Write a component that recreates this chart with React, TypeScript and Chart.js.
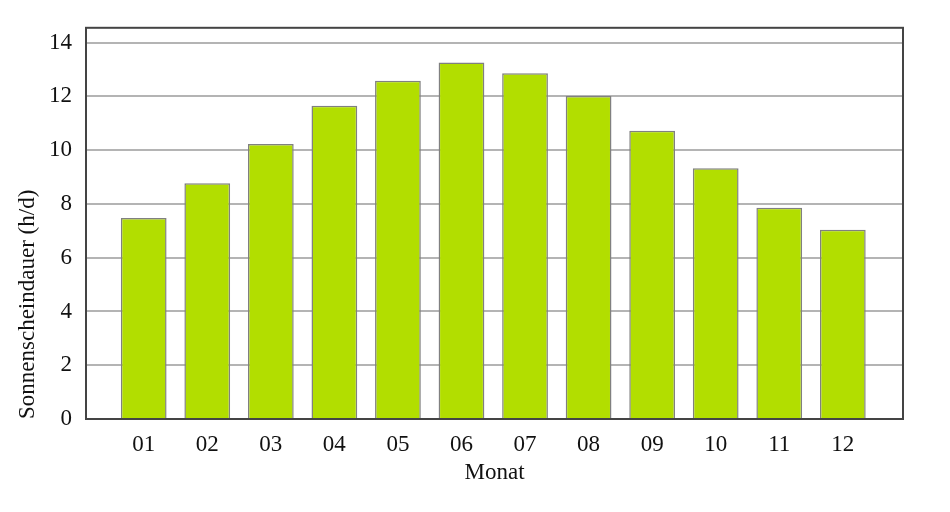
import React, { useEffect, useRef } from "react";
import { Chart, registerables } from "chart.js";

Chart.register(...registerables);

const monthLabels = ["01", "02", "03", "04", "05", "06", "07", "08", "09", "10", "11", "12"];
const sunshineHours = [7.48, 8.77, 10.23, 11.65, 12.58, 13.26, 12.86, 12.01, 10.72, 9.33, 7.86, 7.04];
const yTickValues = [0, 2, 4, 6, 8, 10, 12, 14];
const yAxisTitle = "Sonnenscheindauer (h/d)";
const xAxisTitle = "Monat";

const FONT = "'Liberation Serif', 'Times New Roman', serif";

const framePlugin = {
  id: "frame",
  afterDatasetsDraw(chart: any) {
    const { ctx, chartArea } = chart;
    ctx.save();
    ctx.strokeStyle = "#444444";
    ctx.lineWidth = 2;
    ctx.strokeRect(chartArea.left, chartArea.top, chartArea.right - chartArea.left, chartArea.bottom - chartArea.top);
    ctx.restore();
  },
};

export default function App() {
  const ref = useRef<HTMLCanvasElement>(null);
  useEffect(() => {
    if (!ref.current) return;
    const chart = new Chart(ref.current, {
      type: "bar",
      data: {
        datasets: [
          {
            data: sunshineHours.map((v, i) => ({ x: i + 1, y: v })),
            backgroundColor: "#b2de00",
            borderColor: "#808080",
            borderWidth: 1.5,
            barPercentage: 0.72,
            categoryPercentage: 1,
          },
        ],
      },
      options: {
        responsive: false,
        animation: false,
        layout: { padding: { top: 26, right: 47, left: 0, bottom: 0 } },
        plugins: { legend: { display: false }, tooltip: { enabled: false } },
        scales: {
          x: {
            type: "linear",
            offset: false,
            min: 0.092,
            max: 12.947,
            grid: { display: false, drawTicks: false, offset: false },
            border: { display: false },
            afterBuildTicks: (scale: any) => {
              scale.ticks = monthLabels.map((_, i) => ({ value: i + 1 }));
            },
            afterFit: (scale: any) => {
              scale.height = 93;
            },
            ticks: {
              autoSkip: false,
              maxRotation: 0,
              padding: 12,
              color: "#111",
              font: { family: FONT, size: 23 },
              callback: (v: any) => monthLabels[Math.round(Number(v)) - 1] ?? "",
            },
            title: {
              display: true,
              text: xAxisTitle,
              color: "#111",
              font: { family: FONT, size: 23 },
              padding: { top: 0, bottom: 25 },
            },
          },
          y: {
            type: "linear",
            min: 0,
            max: 14.55,
            grid: { color: "#b4b4b4", lineWidth: 2, drawTicks: false },
            border: { display: false },
            afterBuildTicks: (scale: any) => {
              scale.ticks = yTickValues.map((v) => ({ value: v }));
            },
            afterFit: (scale: any) => {
              scale.width = 86;
            },
            ticks: {
              padding: 14,
              color: "#111",
              font: { family: FONT, size: 23 },
            },
            title: {
              display: true,
              text: yAxisTitle,
              align: "start",
              color: "#111",
              font: { family: FONT, size: 23 },
              padding: { top: 14, bottom: 0 },
            },
          },
        },
      },
      plugins: [framePlugin],
    } as any);
    return () => chart.destroy();
  }, []);
  return (
    <div style={{ position: "fixed", left: 0, top: 0, width: 950, height: 512, background: "#fff" }}>
      <canvas ref={ref} width={950} height={512} style={{ display: "block" }} />
    </div>
  );
}
